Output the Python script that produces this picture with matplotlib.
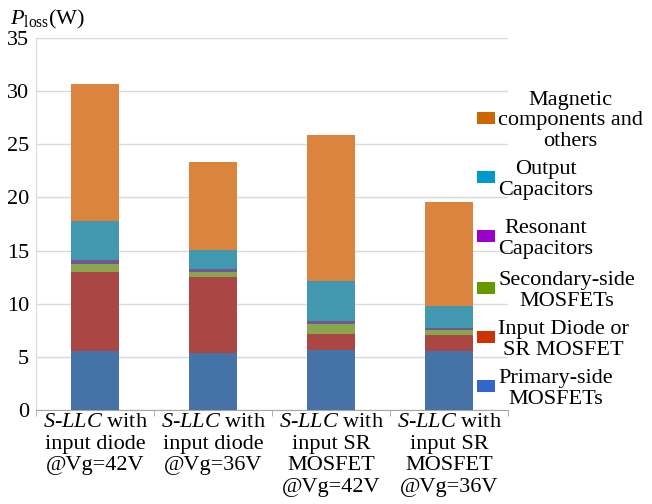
import matplotlib
matplotlib.use("Agg")
import matplotlib.pyplot as plt
from matplotlib.patches import Rectangle
import numpy as np

plt.rcParams['font.family'] = ['Liberation Serif', 'DejaVu Serif']
plt.rcParams['mathtext.fontset'] = 'custom'
plt.rcParams['mathtext.rm'] = 'Liberation Serif'
plt.rcParams['mathtext.it'] = 'Liberation Serif:italic'

# loss breakdown per design (W), bottom to top
categories = [
    "$\\mathit{S}$-$\\mathit{LLC}$ with\ninput diode\n@Vg=42V",
    "$\\mathit{S}$-$\\mathit{LLC}$ with\ninput diode\n@Vg=36V",
    "$\\mathit{S}$-$\\mathit{LLC}$ with\ninput SR\nMOSFET\n@Vg=42V",
    "$\\mathit{S}$-$\\mathit{LLC}$ with\ninput SR\nMOSFET\n@Vg=36V",
]
primary = [5.55, 5.35, 5.65, 5.55]
input_dev = [7.4, 7.2, 1.5, 1.5]
secondary = [0.8, 0.45, 0.9, 0.47]
resonant = [0.35, 0.25, 0.3, 0.22]
output_cap = [3.7, 1.85, 3.8, 2.05]
magnetic = [12.9, 8.2, 13.75, 9.75]

series = [primary, input_dev, secondary, resonant, output_cap, magnetic]
bar_colors = ['#4572A7', '#AA4643', '#89A54E', '#71588F', '#4198AF', '#DB843D']

legend_labels = ["Magnetic\ncomponents and\nothers", "Output\nCapacitors",
                 "Resonant\nCapacitors", "Secondary-side\nMOSFETs",
                 "Input Diode or\nSR MOSFET", "Primary-side\nMOSFETs"]
legend_colors = ['#CC6600', '#0099CC', '#9900CC', '#669900', '#CC3300', '#3366CC']
legend_y = [121, 180, 239, 291, 340, 389]  # pixel rows of legend entries

W, H = 652, 504
fs = 16
fig = plt.figure(figsize=(W / 100, H / 100), dpi=100)
ax = fig.add_axes([36 / W, (H - 410) / H, (508 - 36) / W, (410 - 38) / H])

x = np.arange(len(categories))
bottom = np.zeros(len(categories))
for vals, c in zip(series, bar_colors):
    ax.bar(x, vals, 0.4, bottom=bottom, color=c, linewidth=0, zorder=3)
    bottom += np.array(vals)

ax.set_xlim(-0.5, 3.5)
ax.set_ylim(0, 35)
ax.set_yticks(range(0, 36, 5))
ax.yaxis.grid(True, color='#D9D9D9', linewidth=1, zorder=0)
ax.tick_params(axis='y', length=0, labelsize=fs, pad=5)
ax.set_xticks(x)
ax.set_xticklabels(categories, fontsize=fs, linespacing=1.2)
ax.tick_params(axis='x', length=0, pad=2)
ax.set_xticks(np.arange(-0.5, 4, 1), minor=True)
ax.tick_params(axis='x', which='minor', length=4, color='#A6A6A6')
for s in ['top', 'right']:
    ax.spines[s].set_visible(False)
ax.spines['left'].set_color('#D9D9D9')
ax.spines['bottom'].set_color('#A6A6A6')

fig.text(10 / W, 1 - 24 / H, "$\\mathit{P}_{\\mathrm{loss}}$(W)", fontsize=fs,
         ha='left', va='baseline')

for lab, col, yy in zip(legend_labels, legend_colors, legend_y):
    fig.patches.append(Rectangle((477 / W, 1 - (yy + 3) / H), 18 / W, 12 / H,
                                 transform=fig.transFigure, facecolor=col,
                                 edgecolor='none'))
    fig.text(498 / W, 1 - yy / H, lab, fontsize=fs, ha='left', va='center',
             multialignment='center', linespacing=1.1)

fig.savefig("out.png", dpi=100)
